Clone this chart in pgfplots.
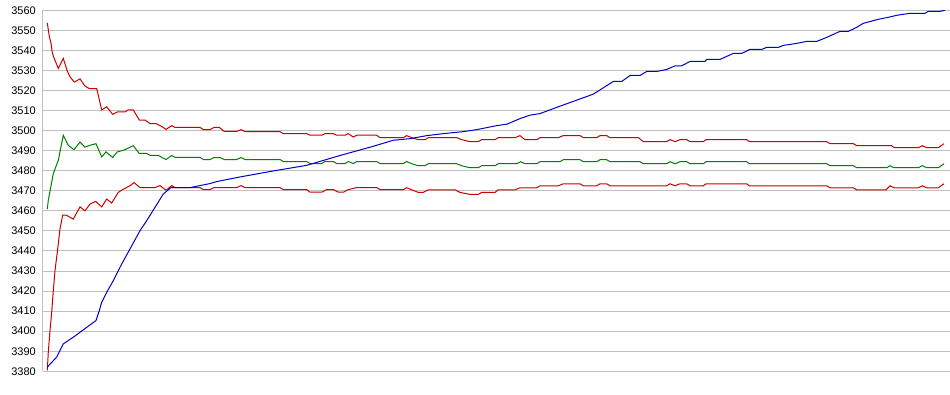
\documentclass[border=0pt]{standalone}
\usepackage{pgfplots}
\pgfplotsset{compat=1.18}
\usepackage{fontspec}
\setmainfont{Liberation Sans}
\definecolor{gridgray}{RGB}{192,192,192}
\definecolor{cred}{RGB}{200,0,0}
\definecolor{cgreen}{RGB}{0,128,0}
\definecolor{cblue}{RGB}{0,0,200}
\begin{document}
\begin{tikzpicture}
\useasboundingbox (-42.7bp,-23.7bp) rectangle (907.3bp,371.3bp);
\begin{axis}[
  at={(0,0)}, anchor=south west,
  scale only axis, width=907.3bp, height=361bp,
  xmin=42.7, xmax=950, ymin=3380, ymax=3560,
  xtick=\empty, ytick distance=10,
  scaled y ticks=false,
  /pgf/number format/1000 sep={},
  /pgf/number format/assume math mode=true,
  ymajorgrids, grid style={draw=gridgray, line width=1bp},
  axis lines*=left,
  axis line style={-, draw=gridgray, line width=1bp},
  major tick length=0pt,
  yticklabel style={font=\fontsize{11bp}{13bp}\selectfont, inner sep=0pt, xshift=-6.7bp, text=black},
  every axis plot/.append style={line width=1bp, mark=none},
]
% upper band
\addplot[cred] coordinates {
(47.3,3553.7)(49.3,3547)(51,3543.7)(52.3,3538.8)(54,3536.3)(58.3,3531)(63.3,3536)(67.3,3529.7)(70,3526.8)(74.3,3524.2)(80,3525.8)(85,3522.2)(89.3,3521)(96.7,3521)(101.7,3510.3)(106.7,3511.9)(112.7,3508.1)(117.3,3509.3)(125,3509.3)(128,3510.3)(133.3,3510.3)(139.3,3505.3)(145,3505.3)(150,3503.5)(156,3503.5)(161.7,3502.1)(166,3500.6)(171.7,3502.5)(175,3501.6)(200,3501.6)(203.3,3500.5)(210,3500.5)(214,3501.6)(219.3,3501.6)(224.3,3499.6)(236.7,3499.6)(241,3500.5)(245,3499.5)(280,3499.5)(283.3,3498.5)(306.7,3498.5)(310,3497.7)(321.7,3497.7)(325,3498.5)(333.3,3498.5)(336.7,3497.7)(345,3497.7)(348.3,3498.5)(353.3,3496.8)(356.7,3497.7)(376.7,3497.7)(380,3496.5)(403.3,3496.5)(406.7,3497.5)(411.7,3496.5)(418.3,3495.5)(425,3495.5)(428.3,3496.5)(456.7,3496.5)(461.7,3495.5)(470,3494.5)(478.3,3494.5)(481.7,3495.5)(495,3495.5)(498.3,3496.5)(515,3496.5)(520,3497.5)(525,3495.5)(536.7,3495.5)(540,3496.5)(558.3,3496.5)(563.3,3497.5)(580,3497.5)(583.3,3496.5)(596.7,3496.5)(600,3497.5)(606.7,3497.5)(610,3496.5)(638.3,3496.5)(643.3,3494.5)(666.7,3494.5)(670,3495.5)(675,3494.5)(680,3495.5)(686.7,3495.5)(690,3494.5)(703.3,3494.5)(706,3495.5)(746.7,3495.5)(749.3,3494.5)(826.7,3494.5)(830,3493.5)(853.3,3493.5)(856.7,3492.5)(891.7,3492.5)(894,3491.5)(918.3,3491.5)(922.3,3492.5)(926.7,3491.5)(938.3,3491.5)(944,3493.5)
};
% lower band
\addplot[cred] coordinates {
(47.3,3380.5)(48.3,3389.6)(50,3400.3)(51.7,3409.4)(53.3,3420.2)(55,3430.2)(57.3,3439.3)(60,3451)(62.7,3457.9)(66,3457.9)(73.3,3455.9)(80,3462)(85,3460)(90,3463.4)(95.7,3464.7)(101.7,3462)(106.7,3465.9)(111.7,3463.9)(118.3,3469.2)(123.3,3470.8)(130,3472.5)(134,3474.1)(140,3471.6)(155,3471.6)(160,3472.6)(166,3470.3)(171.7,3472.6)(175,3471.6)(200,3471.6)(203.3,3470.6)(210,3470.6)(214,3471.6)(236.7,3471.6)(241,3472.6)(245,3471.6)(280,3471.6)(283.3,3470.6)(306.7,3470.6)(310,3469.3)(321.7,3469.3)(326.7,3470.6)(333.3,3470.6)(338.3,3469.3)(343.3,3469.3)(348.3,3470.6)(356.7,3471.6)(376.7,3471.6)(380,3470.6)(403.3,3470.6)(406.7,3471.5)(411.7,3470.5)(418.3,3469.2)(423.3,3469.2)(428.3,3470.5)(455,3470.5)(460,3469.2)(470,3468.2)(478.3,3468.2)(481.7,3469.2)(495,3469.2)(498.3,3470.5)(515,3470.5)(520,3471.5)(536.7,3471.5)(540,3472.5)(558.3,3472.5)(563.3,3473.5)(580,3473.5)(583.3,3472.5)(596.7,3472.5)(600,3473.5)(606.7,3473.5)(610,3472.5)(666.7,3472.5)(670,3473.5)(675,3472.5)(680,3473.5)(686.7,3473.5)(690,3472.5)(703.3,3472.5)(706,3473.5)(746.7,3473.5)(749.3,3472.5)(826.7,3472.5)(830,3471.5)(853.3,3471.5)(856.7,3470.5)(886,3470.5)(890,3472.5)(894,3471.5)(918.3,3471.5)(922.3,3472.5)(926.7,3471.5)(938.3,3471.5)(944,3473.5)
};
% mean
\addplot[cgreen] coordinates {
(47.3,3460.9)(48.3,3465.3)(53.3,3478.6)(58.3,3485.2)(63.3,3497.7)(68.3,3492.7)(74,3490.5)(80,3494.3)(85,3491.8)(90,3492.7)(96,3493.5)(101.7,3486.9)(106,3489.4)(112.7,3486.6)(117.3,3489.4)(123.3,3490.2)(128.3,3491.3)(133.3,3492.5)(139.3,3488.6)(146.7,3488.6)(150,3487.7)(158.3,3487.7)(161.7,3486.7)(166,3485.6)(171.7,3487.6)(175,3486.7)(200,3486.7)(203.3,3485.6)(210,3485.6)(214,3486.6)(220,3486.6)(224.3,3485.6)(236.7,3485.6)(241,3486.6)(245,3485.6)(280,3485.6)(283.3,3484.6)(306.7,3484.6)(310,3483.6)(321.7,3483.6)(325,3484.6)(333.3,3484.6)(336.7,3483.6)(345,3483.6)(348.3,3484.6)(353.3,3483.6)(356.7,3484.6)(376.7,3484.6)(380,3483.6)(403.3,3483.6)(406.7,3484.6)(411.7,3483.5)(418.3,3482.5)(425,3482.5)(428.3,3483.5)(456.7,3483.5)(461.7,3482.5)(470,3481.5)(478.3,3481.5)(481.7,3482.5)(495,3482.5)(498.3,3483.5)(516.7,3483.5)(520.7,3484.5)(525,3483.5)(536.7,3483.5)(540,3484.5)(560,3484.5)(563.3,3485.5)(580,3485.5)(583.3,3484.5)(596.7,3484.5)(600,3485.5)(606.7,3485.5)(610,3484.5)(640,3484.5)(643.3,3483.5)(666.7,3483.5)(670,3484.5)(675,3483.5)(680,3484.5)(686.7,3484.5)(690,3483.5)(703.3,3483.5)(706,3484.5)(746.7,3484.5)(749.3,3483.5)(826.7,3483.5)(830,3482.5)(853.3,3482.5)(856.7,3481.5)(886.7,3481.5)(890,3482.5)(894,3481.5)(918.3,3481.5)(922.3,3482.5)(926.7,3481.5)(938.3,3481.5)(944,3483.5)
};
% value
\addplot[cblue] coordinates {
(47.3,3382.1)(56.7,3387.1)(63.3,3393.7)(73.3,3397)(83.3,3400.7)(96,3405.3)(99.3,3410.3)(101.7,3414.4)(106.7,3419.4)(113.3,3425.2)(121.7,3433.5)(130,3441)(140,3450.1)(146.7,3455.1)(153.3,3460.4)(163.3,3468.4)(171,3471.6)(190,3471.6)(200,3472.6)(210,3473.6)(216.7,3474.6)(240,3476.9)(273.3,3479.9)(306.7,3482.7)(340,3487.6)(373.3,3492.2)(393.3,3495.2)(410,3496)(426.7,3497.5)(443.3,3498.5)(463.3,3499.5)(476.7,3500.5)(486.7,3501.5)(496.7,3502.5)(506.7,3503.2)(520,3506)(530,3507.7)(540,3508.5)(560,3512.2)(576.7,3515.2)(593.3,3518.2)(613.3,3524.5)(621.7,3524.5)(630,3527.5)(640,3527.5)(646.7,3529.5)(656.7,3529.5)(666.7,3530.5)(675,3532.3)(681.7,3532.3)(690,3534.5)(705,3534.5)(706.7,3535.5)(720,3535.5)(733.3,3538.5)(741.7,3538.5)(750,3540.5)(761.7,3540.5)(766.7,3541.5)(778.3,3541.5)(783.3,3542.5)(796.7,3543.5)(806.7,3544.5)(816.7,3544.5)(826.7,3546.5)(840,3549.5)(848.3,3549.5)(856.7,3551.5)(863.3,3553.5)(878.3,3555.5)(888.3,3556.5)(896.7,3557.5)(910,3558.5)(925,3558.5)(928.3,3559.5)(940,3559.5)(945,3560)
};
\end{axis}
\end{tikzpicture}
\end{document}
